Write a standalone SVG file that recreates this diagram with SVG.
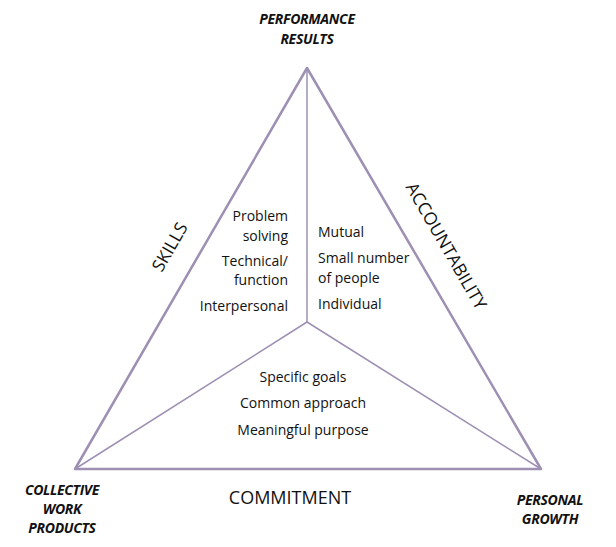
<svg xmlns="http://www.w3.org/2000/svg" width="616" height="547" viewBox="0 0 616 547">
<style>
.edge{stroke:#9d90b3;fill:none;stroke-linecap:round;stroke-linejoin:round}
.outer{stroke-width:2.5}
.inner{stroke-width:1.5}
.corner{font-family:"Open Sans","Liberation Sans",sans-serif;font-weight:bold;font-style:italic;font-size:14px;fill:#111;text-anchor:middle;letter-spacing:-0.3px}
.item{font-family:"Open Sans","Liberation Sans",sans-serif;font-size:14px;fill:#111}
.side{font-family:"Open Sans","Liberation Sans",sans-serif;font-size:17.5px;fill:#111;text-anchor:middle}
</style>
<rect width="616" height="547" fill="#fff"/>
<g id="connectors">
<polygon class="edge outer" points="307,68 75,469 541,469"/>
<line class="edge inner" x1="307" y1="68" x2="307" y2="322"/>
<line class="edge inner" x1="307" y1="322" x2="75" y2="469"/>
<line class="edge inner" x1="307" y1="322" x2="541" y2="469"/>
</g>
<g id="performance-results">
<text class="corner" x="307" y="24">PERFORMANCE</text>
<text class="corner" x="307" y="44">RESULTS</text>
</g>
<g id="collective-work-products">
<text class="corner" x="62" y="495">COLLECTIVE</text>
<text class="corner" x="62" y="514">WORK</text>
<text class="corner" x="62" y="533">PRODUCTS</text>
</g>
<g id="personal-growth">
<text class="corner" x="550" y="505">PERSONAL</text>
<text class="corner" x="550" y="524">GROWTH</text>
</g>
<g id="skills">
<text class="side" transform="translate(175,250) rotate(-60)">SKILLS</text>
<text class="item" text-anchor="end" x="288" y="221">Problem</text>
<text class="item" text-anchor="end" x="288" y="241">solving</text>
<text class="item" text-anchor="end" x="288" y="266">Technical/</text>
<text class="item" text-anchor="end" x="288" y="285">function</text>
<text class="item" text-anchor="end" x="288" y="311">Interpersonal</text>
</g>
<g id="accountability">
<text class="side" transform="translate(441,249) rotate(60)">ACCOUNTABILITY</text>
<text class="item" x="318" y="237">Mutual</text>
<text class="item" x="318" y="263">Small number</text>
<text class="item" x="318" y="283">of people</text>
<text class="item" x="318" y="309">Individual</text>
</g>
<g id="commitment">
<text class="side" x="290" y="504" style="font-size:18px">COMMITMENT</text>
<text class="item" text-anchor="middle" x="303" y="382">Specific goals</text>
<text class="item" text-anchor="middle" x="303" y="408">Common approach</text>
<text class="item" text-anchor="middle" x="303" y="435">Meaningful purpose</text>
</g>
</svg>
